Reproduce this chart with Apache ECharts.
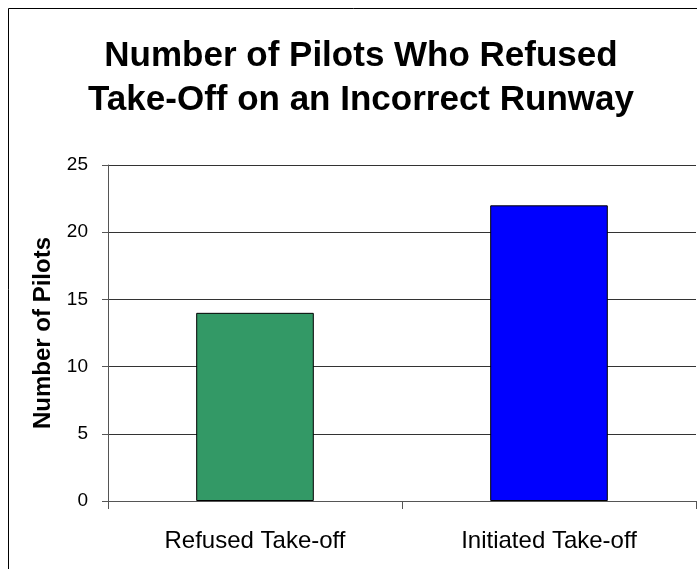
<!DOCTYPE html>
<html>
<head>
<meta charset="utf-8">
<script src="https://cdn.jsdelivr.net/npm/echarts@6/dist/echarts.min.js"></script>
<style>
  html, body { margin: 0; padding: 0; background: #fff; }
  #chart { width: 697px; height: 569px; }
</style>
</head>
<body>
<div id="chart"></div>
<script>
// 차트 데이터
const categories = ['Refused Take-off', 'Initiated Take-off'];
const pilotCounts = [14, 22];
const barColors = ['#339966', '#0000FF'];
const yTicks = [0, 5, 10, 15, 20, 25];

const chart = echarts.init(document.getElementById('chart'));

const option = {
  animation: false,
  backgroundColor: '#fff',
  title: {
    text: 'Number of Pilots Who Refused\nTake-Off on an Incorrect Runway',
    left: 356,
    top: 29,
    textAlign: 'center',
    textStyle: {
      fontFamily: 'Liberation Sans, Arial',
      fontWeight: 'bold',
      fontSize: 35,
      lineHeight: 44,
      color: '#000'
    }
  },
  graphic: [{
    type: 'rect',
    shape: { x: 8.5, y: 8.5, width: 720, height: 600 },
    style: { fill: 'none', stroke: '#000', lineWidth: 1 },
    silent: true
  }],
  grid: { left: 108, top: 165, right: 1, bottom: 68 },
  xAxis: {
    type: 'category',
    data: categories,
    axisLine: { lineStyle: { color: '#555', width: 1 } },
    axisTick: { show: true, alignWithLabel: false, length: 8, lineStyle: { color: '#555' } },
    axisLabel: {
      interval: 0,
      margin: 28,
      fontFamily: 'Liberation Sans, Arial',
      fontSize: 24,
      color: '#000'
    }
  },
  yAxis: {
    type: 'value',
    min: yTicks[0],
    max: yTicks[yTicks.length - 1],
    interval: 5,
    name: 'Number of Pilots',
    nameLocation: 'middle',
    nameGap: 53,
    nameTextStyle: {
      fontFamily: 'Liberation Sans, Arial',
      fontWeight: 'bold',
      fontSize: 24,
      color: '#000'
    },
    axisLine: { show: true, lineStyle: { color: '#555', width: 1 } },
    axisTick: { show: true, length: 6, lineStyle: { color: '#555' } },
    axisLabel: {
      margin: 20,
      fontFamily: 'Liberation Sans, Arial',
      fontSize: 19,
      color: '#000'
    },
    splitLine: { show: true, lineStyle: { color: '#333', width: 1 } }
  },
  series: [{
    type: 'bar',
    data: pilotCounts.map((v, i) => ({
      value: v,
      itemStyle: { color: barColors[i] }
    })),
    barWidth: '40%',
    itemStyle: { borderColor: '#000', borderWidth: 1 }
  }]
};

chart.setOption(option);
</script>
</body>
</html>
